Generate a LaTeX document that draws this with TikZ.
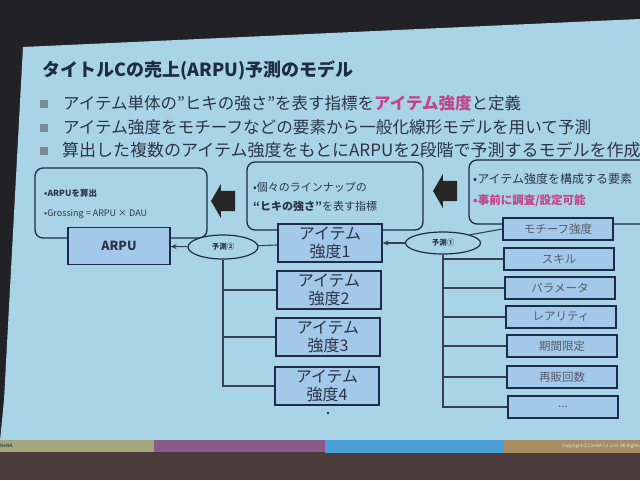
\documentclass[tikz,border=0pt]{standalone}
\usepackage{fontspec}
\setmainfont{Noto Sans CJK JP}
\usetikzlibrary{shapes.geometric,shapes.arrows,arrows.meta}
\definecolor{darkbg}{HTML}{222226}
\definecolor{floorbg}{HTML}{4B3B3A}
\definecolor{slidebg}{HTML}{A9D4E8}
\definecolor{boxfill}{HTML}{A3C9EA}
\definecolor{navy}{HTML}{1E2B48}
\definecolor{txt}{HTML}{2C3444}
\definecolor{linec}{HTML}{38404E}
\definecolor{magenta}{HTML}{C0448F}
\definecolor{olivebar}{HTML}{A2A87C}
\definecolor{purplebar}{HTML}{8C5A8A}
\definecolor{bluebar}{HTML}{4C9ED6}
\definecolor{tanbar}{HTML}{A68E62}
\definecolor{bulletc}{HTML}{7D8A94}
\begin{document}
\begin{tikzpicture}[x=1pt,y=-1pt,
  infobox/.style={draw=navy,line width=1.3pt,rounded corners=8pt,fill=slidebg},
  blockarrow/.style={single arrow,shape border rotate=180,fill=black!85,inner xsep=0pt,inner ysep=10pt,
     minimum height=24pt,minimum width=34pt,single arrow head extend=7pt,single arrow tip angle=120},
  itembox/.style={draw=navy,line width=1.2pt,fill=boxfill,minimum width=104pt,minimum height=38pt,
     align=center,font=\fontsize{16}{18}\selectfont,text=txt,inner sep=0pt},
  factbox/.style={draw=navy,line width=1.2pt,fill=boxfill,minimum width=110pt,minimum height=22pt,
     font=\fontsize{11.5}{13}\selectfont,text=txt!80,inner sep=0pt},
  predell/.style={ellipse,draw=navy,line width=1.2pt,fill=slidebg,inner sep=0pt,
     font=\bfseries\fontsize{7.5}{9}\selectfont,text=txt},
  conn/.style={draw=linec,line width=1.1pt},
  bul/.style={fill=bulletc,minimum size=8pt,inner sep=0pt},
  bultext/.style={anchor=west,text=txt,inner sep=0pt},
  small/.style={anchor=west,text=txt,inner sep=0pt}
]
\useasboundingbox (0,0) rectangle (640,480);
% photo surroundings
\fill[darkbg] (0,0) rectangle (640,480);
\fill[floorbg] (0,452) rectangle (640,480);
% slide
\fill[slidebg] (23,47) -- (640,19) -- (640,441) -- (0,441) -- (4,400) -- cycle;
% bottom bars
\fill[olivebar] (0,440) rectangle (154,452);
\fill[purplebar] (154,440) rectangle (325,452);
\fill[bluebar] (325,440) rectangle (504,453);
\fill[tanbar] (504,440) rectangle (640,453);
\node[anchor=west,inner sep=0pt,font=\bfseries\fontsize{4.5}{5}\selectfont,text=black!70] (dena) at (0,446) {DeNA};
\node[anchor=east,inner sep=0pt,font=\fontsize{4.5}{5}\selectfont,text=white!80!tanbar] (copy) at (640,446) {Copyright (C) DeNA Co.,Ltd. All Rights};

% title
\node[anchor=west,inner sep=0pt,font=\bfseries\fontsize{18}{21}\selectfont,text=navy] (title) at (42,70) {タイトルCの売上(ARPU)予測のモデル};

% bullets
\node[bul] (b1) at (44,104) {};
\node[bultext,font=\fontsize{16.5}{19}\selectfont] (t1) at (63,103) {アイテム単体の”ヒキの強さ”を表す指標を{\bfseries\color{magenta}アイテム強度}と定義};
\node[bul] (b2) at (44,128) {};
\node[bultext,font=\fontsize{16.6}{19}\selectfont] (t2) at (63,127) {アイテム強度をモチーフなどの要素から一般化線形モデルを用いて予測};
\node[bul] (b3) at (44,151) {};
\node[bultext,font=\fontsize{17}{19}\selectfont] (t3) at (62,150) {算出した複数のアイテム強度をもとにARPUを2段階で予測するモデルを作成};

% info boxes
\node[infobox,minimum width=172pt,minimum height=70pt] (ib1) at (121,203) {};
\node[small,font=\bfseries\fontsize{8.5}{10}\selectfont] (ib1a) at (44,193) {•ARPUを算出};
\node[small,font=\fontsize{9}{10}\selectfont] (ib1b) at (44,214) {•Grossing = ARPU × DAU};
\node[blockarrow] (ar1) at (226,201) {};
\node[infobox,minimum width=176pt,minimum height=68pt] (ib2) at (335,196) {};
\node[small,font=\fontsize{11}{13}\selectfont] (ib2a) at (253,187) {•個々のラインナップの};
\node[small,font=\fontsize{11}{13}\selectfont] (ib2b) at (253,206) {{\bfseries “ヒキの強さ”}を表す指標};
\node[blockarrow] (ar2) at (448,191) {};
\node[infobox,minimum width=190pt,minimum height=64pt] (ib3) at (564,192) {};
\node[small,font=\fontsize{12}{14}\selectfont] (ib3a) at (473,179) {•アイテム強度を構成する要素};
\node[small,font=\bfseries\fontsize{11.5}{14}\selectfont,text=magenta] (ib3b) at (473,201) {•事前に調査/設定可能};

% ARPU and stage-2 prediction
\node[itembox,minimum width=102pt,minimum height=37pt,font=\bfseries\fontsize{12.5}{14}\selectfont] (arpu) at (119,246) {ARPU};
\node[predell,minimum width=70pt,minimum height=24pt] (p2) at (223,247) {予測②};
\node[itembox] (s1) at (330,243) {アイテム\\強度1};
\node[itembox] (s2) at (329,290) {アイテム\\強度2};
\node[itembox] (s3) at (328,337) {アイテム\\強度3};
\node[itembox] (s4) at (327,386) {アイテム\\強度4};
\fill[txt] (328,413) circle (1.3pt);

\draw[conn,-{Stealth[length=6pt,width=5pt]}] (p2) -- (arpu);
\draw[conn] (s1) -- (p2);
\draw[conn] (p2.south) -- (p2.south |- s4.west) -- (s4.west);
\draw[conn] (p2.south |- s2.west) -- (s2.west);
\draw[conn] (p2.south |- s3.west) -- (s3.west);

% stage-1 prediction
\node[predell,minimum width=75pt,minimum height=22pt] (p1) at (443,243) {予測①};
\node[factbox] (f1) at (558,229) {モチーフ強度};
\node[factbox] (f2) at (559,259) {スキル};
\node[factbox] (f3) at (560,288) {パラメータ};
\node[factbox] (f4) at (561,317) {レアリティ};
\node[factbox] (f5) at (562,346) {期間限定};
\node[factbox] (f6) at (562,377) {再販回数};
\node[factbox] (f7) at (563,407) {...};

\draw[conn,-{Stealth[length=6pt,width=5pt]}] (p1) -- (s1);
\draw[conn] (f1.west) -- (p1.north east);
\draw[conn] (p1.south) -- (p1.south |- f7.west) -- (f7.west);
\foreach \f in {f2,f3,f4,f5,f6}{
  \draw[conn] (p1.south |- \f.west) -- (\f.west);
}
\end{tikzpicture}
\end{document}
